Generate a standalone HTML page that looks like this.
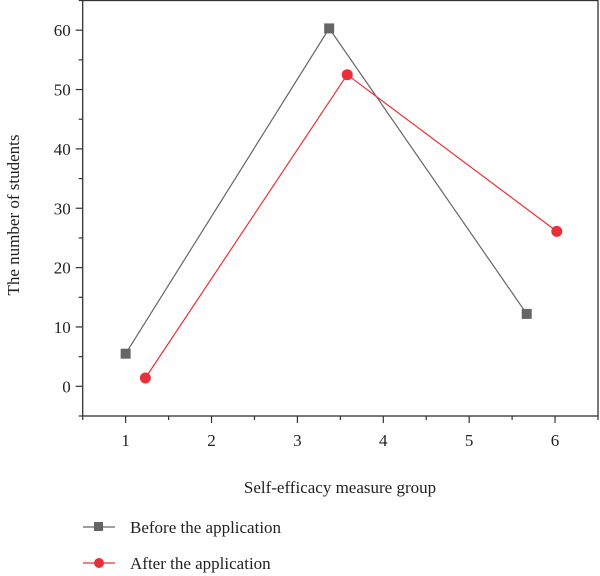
<!DOCTYPE html>
<html><head><meta charset="utf-8"><style>
body{margin:0;background:#fff;}
svg{display:block;font-family:"Liberation Serif",serif;}
</style></head><body>
<svg id="chart" width="600" height="576" viewBox="0 0 600 576" xmlns="http://www.w3.org/2000/svg">
<g id="axes"></g><g id="series"></g>
<text x="340" y="493" font-size="17" text-anchor="middle" fill="#222">Self-efficacy measure group</text>
<text transform="translate(19,215) rotate(-90)" font-size="17" text-anchor="middle" fill="#222">The number of students</text>
<g>
<g>
<line x1="83" y1="527" x2="115" y2="527" stroke="#666" stroke-width="1.2"/>
<rect x="94" y="522" width="9" height="9" fill="#666"/>
<text x="130" y="533" font-size="17" fill="#222">Before the application</text></g>
<g>
<line x1="83" y1="563" x2="115" y2="563" stroke="#e8303a" stroke-width="1.2"/>
<circle cx="99" cy="563" r="5" fill="#e8303a"/>
<text x="130" y="569" font-size="17" fill="#222">After the application</text></g>
</g>
</svg>
<script>
const beforeX=[1,3.37,5.67];
const beforeY=[5.5,60.3,12.2];
const afterX=[1.23,3.58,6.02];
const afterY=[1.4,52.5,26.1];
const xTicks=[1,2,3,4,5,6];
const yTicks=[0,10,20,30,40,50,60];
const L=82.7,R=598,T=0.5,B=416;
const xMin=0.5,xMax=6.5,yMin=-5,yMax=65;
const sx=v=>L+(v-xMin)/(xMax-xMin)*(R-L);
const sy=v=>B-(v-yMin)/(yMax-yMin)*(B-T);
const NS="http://www.w3.org/2000/svg";
function mk(tag,attrs,parent){const e=document.createElementNS(NS,tag);for(const k in attrs)e.setAttribute(k,attrs[k]);parent.appendChild(e);return e;}
const ax=document.getElementById('axes');
const frame=mk('rect',{x:L,y:T,width:R-L,height:B-T,fill:'none',stroke:'#333','stroke-width':1.3},ax);


for(let v=xMin;v<=xMax+1e-9;v+=0.5){
 const major=xTicks.includes(v);
 const t=mk('line',{x1:sx(v),x2:sx(v),y1:B,y2:B+(major?7:4),stroke:'#333','stroke-width':1.2},ax);
 
 
}
xTicks.forEach(v=>{const t=mk('text',{x:sx(v),y:B+30,'font-size':17,'text-anchor':'middle',fill:'#222'},ax);t.textContent=v;
 
 });
for(let v=yMin;v<=yMax+1e-9;v+=5){
 const major=yTicks.includes(v);
 const t=mk('line',{x1:L,x2:L-(major?7:4),y1:sy(v),y2:sy(v),stroke:'#333','stroke-width':1.2},ax);
 
 
}
yTicks.forEach(v=>{const t=mk('text',{x:L-12,y:sy(v)+6,'font-size':17,'text-anchor':'end',fill:'#222'},ax);t.textContent=v;
 
 });
const sg=document.getElementById('series');
function series(xs,ys,color,name,square){
 const pts=xs.map((x,i)=>sx(x)+','+sy(ys[i])).join(' ');
 const pl=mk('polyline',{points:pts,fill:'none',stroke:color,'stroke-width':1.2},sg);
 
 
 xs.forEach((x,i)=>{
  let m;
  if(square)m=mk('rect',{x:sx(x)-5,y:sy(ys[i])-5,width:10,height:10,fill:color},sg);
  else m=mk('circle',{cx:sx(x),cy:sy(ys[i]),r:5.5,fill:color},sg);
  
  
 });
}
series(beforeX,beforeY,'#666','before',true);
series(afterX,afterY,'#e8303a','after',false);
</script>
</body></html>
